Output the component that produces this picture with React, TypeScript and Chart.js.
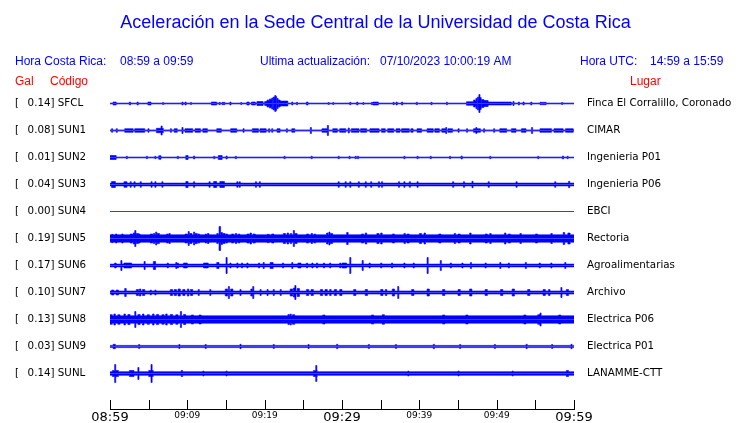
import React, { useEffect, useRef } from 'react';
import { Chart, registerables } from 'chart.js';

Chart.register(...registerables);

// ---------- data ----------
const TITLE = 'Aceleración en la Sede Central de la Universidad de Costa Rica';
const LOCAL_RANGE = '08:59 a 09:59';
const UTC_RANGE = '14:59 a 15:59';
const UPDATED = '07/10/2023 10:00:19 AM';
const START_MINUTE = 8 * 60 + 59; // 08:59
const SPAN_MINUTES = 60;
const TICK_STEP = 5;
const LABEL_STEP = 10;
const BIG_LABEL_STEP = 30;

const CODES = ['SFCL', 'SUN1', 'SUN2', 'SUN3', 'SUN4', 'SUN5', 'SUN6', 'SUN7', 'SUN8', 'SUN9', 'SUNL'];
const PLACES = [
  'Finca El Corralillo, Coronado', 'CIMAR', 'Ingenieria P01', 'Ingenieria P06', 'EBCI', 'Rectoria',
  'Agroalimentarias', 'Archivo', 'Electrica P06', 'Electrica P01', 'LANAMME-CTT',
];
const PEAK_GAL = [0.14, 0.08, 0.01, 0.04, 0.0, 0.19, 0.17, 0.1, 0.13, 0.03, 0.14];
// background noise half-amplitude of each trace (display units)
const NOISE = [0.45, 0.6, 0.45, 1.4, 0, 3.7, 1.4, 1.5, 3.7, 1.1, 1.8];

// events: [minute from start, half-amplitude, duration in minutes (optional)]
const EV_SFCL = [
  [0.4, 1.5, 0.4], [2.5, 1.5], [3.5, 1.5], [4.9, 1.5, 0.4], [6.8, 1], [9.3, 1.5], [9.7, 1.5], [10.4, 1],
  [13.1, 1.5, 0.7], [14.1, 1.2], [14.5, 1.2], [14.7, 1.2], [15.5, 1.5], [16.9, 1], [17.7, 1.5, 0.3],
  [18.3, 1.5, 0.5], [19.0, 2, 0.8], [20.0, 2, 0.3], [20.3, 3.5, 0.2], [20.5, 2.5, 0.1], [20.6, 4.5, 0.2],
  [20.8, 3.5, 0.1], [20.9, 5.5, 0.15], [21.1, 6.5, 0.15], [21.25, 4.5, 0.05], [21.3, 8, 0.15], [21.45, 7, 0.1],
  [21.6, 5, 0.15], [21.8, 3.5, 0.2], [22.0, 2.5, 1.0],
  [23.5, 1.5], [24.1, 1.2], [25.4, 1.5, 0.2], [28.2, 1], [28.8, 1], [31.0, 1.2], [31.9, 1.5], [32.7, 1],
  [33.8, 1.2], [34.0, 1.5, 0.7], [36.6, 1.2], [37.0, 1.5], [37.7, 1.5], [39.6, 1.2], [41.5, 1.2], [43.5, 1.2],
  [46.1, 1.8, 0.9], [47.0, 3.5, 0.2], [47.2, 2.5, 0.1], [47.3, 5, 0.15], [47.5, 6.5, 0.15], [47.65, 4, 0.05],
  [47.7, 9, 0.15], [47.85, 6, 0.15], [48.05, 4, 0.3], [48.35, 3, 0.55], [48.9, 1.5, 3.0], [52.1, 2],
  [52.8, 1.5], [53.4, 1.5], [54.4, 1.5], [55.6, 1.2, 0.8], [58.4, 1],
];
const EV_SUN1 = [
  [0.2, 1.8], [0.8, 1.8], [1.9, 1.8, 1.1], [3.2, 1.8, 1.3], [4.9, 1.8], [6.0, 2.2, 0.9], [6.6, 4.5], [7.8, 1.8],
  [8.3, 1.8, 0.4], [9.3, 3], [9.7, 1.8, 1.0], [11.0, 1.8, 0.7], [12.0, 1.8, 0.6], [13.8, 1.8, 0.6],
  [15.6, 1.8, 0.8], [17.2, 1.8], [18.4, 1.8, 0.8], [19.4, 1.8, 0.8], [20.5, 1.8], [20.9, 1.8], [21.6, 1.8, 0.4],
  [22.8, 1.8], [23.5, 1.8, 0.4], [25.9, 3], [27.4, 1.8, 0.8], [28.1, 5], [28.8, 1.8, 0.6], [29.7, 1.8, 0.8],
  [30.8, 2.5], [31.2, 1.8, 1.0], [32.4, 1.8, 0.8], [33.6, 1.8, 1.2], [35.1, 1.8, 0.5], [35.9, 1.8, 0.8],
  [37.0, 1.8, 0.5], [37.7, 1.8, 1.0], [38.9, 1.8, 0.3], [39.7, 1.8, 0.6], [41.0, 1.8, 0.8], [42.0, 1.8, 0.6],
  [42.9, 1.8, 0.5], [43.4, 3], [43.7, 1.8, 0.6], [45.0, 1.8], [46.1, 1.8], [47.0, 1.8, 0.9], [47.3, 3],
  [48.3, 1.8], [49.6, 1.8], [50.4, 1.8, 0.9], [51.9, 1.8, 0.6], [53.2, 1.8, 0.6], [54.5, 3], [55.6, 1.8, 1.5],
  [57.4, 1.8, 1.2], [58.9, 1.8, 1.0],
];
const EV_SUN2 = [
  [0, 2, 0.8], [2.1, 1.2], [4.7, 1.2], [5.8, 1.2], [6.3, 1.8, 0.3], [8.7, 1.2], [9.8, 2, 0.3], [10.8, 1.5],
  [13.4, 1.2], [14.0, 2, 0.5], [15.0, 1.5], [16.2, 1.2], [22.5, 1.2], [26.0, 1.2], [29.5, 1.2], [30.9, 1.2],
  [31.7, 1.2], [32.0, 1.2], [38.0, 1.2], [39.7, 1.2], [41.4, 1.2], [43.9, 1.2], [45.4, 1.5], [49.1, 1.2],
  [55.3, 1.2], [58.5, 1.5], [59.1, 1.2],
];
const EV_SUN3 = [
  [0.2, 3, 0.5], [1.8, 2.8, 0.4], [2.6, 2.8], [3.1, 2.8], [3.9, 2.8], [5.3, 2.8], [5.8, 2.8], [6.7, 2.8],
  [9.8, 3, 0.3], [10.8, 2.8], [12.8, 2.8], [13.4, 3, 0.4], [14.2, 3, 0.6], [16.4, 2.8], [16.7, 2.8],
  [18.8, 2.8], [19.3, 2.8], [29.5, 2.8], [30.4, 2.8], [31.0, 2.8], [32.1, 2.8], [33.0, 2.8], [33.7, 2.8],
  [34.7, 2.8], [35.1, 2.8], [37.3, 2.8], [38.0, 2.8], [38.7, 2.8], [39.7, 2.8], [44.3, 2.8], [45.7, 2.8],
  [46.8, 3.2], [48.9, 2.8], [52.5, 2.8], [57.5, 2.8], [59.3, 3.2],
];
const EV_SUN4: number[][] = [];
const EV_SUN5 = [
  [0.2, 4.2, 0.2], [0.7, 4.5, 0.2], [1.5, 4.5, 0.2], [2.6, 4.5, 0.3], [3.0, 5.5, 0.2], [3.2, 8], [3.4, 5, 0.3],
  [3.7, 4.5, 0.2], [5.2, 4.5, 0.3], [5.6, 5, 0.2], [5.9, 6.5], [6.1, 5, 0.3], [7.3, 4.5, 0.2], [7.6, 5, 0.2],
  [9.7, 4.5, 0.3], [10.1, 7], [10.3, 5, 0.3], [10.8, 6.5], [11.0, 5, 0.3], [11.4, 4.5, 0.2], [12.3, 4.5, 0.2],
  [12.6, 5, 0.2], [13.8, 5, 0.2], [14.1, 12, 0.2], [14.35, 6, 0.2], [14.6, 5, 0.3], [15.0, 4.5, 0.2],
  [15.7, 4.5, 0.3], [16.2, 5, 0.2], [16.6, 4.5, 0.2], [17.7, 4.5, 0.3], [18.1, 5.5, 0.2], [18.5, 4.5, 0.3],
  [20.3, 4.2, 0.3], [20.9, 4.5, 0.3], [22.4, 5, 0.3], [22.9, 5.5, 0.2], [23.3, 5, 0.2], [23.7, 8],
  [23.9, 5, 0.3], [25.4, 4.5, 0.3], [26.0, 5, 0.2], [26.4, 4.5, 0.2], [28.0, 5.5, 0.2], [28.3, 6.5],
  [28.5, 5, 0.3], [30.6, 6, 0.2], [32.5, 4.5, 0.3], [33.0, 5.5, 0.2], [34.5, 5, 0.3], [35.0, 5.5, 0.2],
  [36.5, 4.5, 0.3], [38.0, 5, 0.2], [38.4, 4.5, 0.3], [40.0, 5, 0.3], [40.6, 5.5, 0.2], [42.5, 4.5, 0.3],
  [44.5, 5, 0.2], [45.0, 4.5, 0.3], [46.5, 5.5, 0.2], [48.5, 4.5, 0.3], [49.1, 5, 0.2], [51.0, 5.5, 0.2],
  [51.5, 4.5, 0.3], [53.0, 5, 0.2], [55.0, 4.5, 0.3], [57.0, 5, 0.2], [58.6, 6, 0.2], [59.2, 5.5, 0.3],
];
const EV_SUN6 = [
  [0.6, 2.5, 0.2], [1.4, 5], [1.8, 2.5, 1.0], [4.4, 4], [5.6, 4, 0.3], [7.4, 2.5], [8.5, 3], [8.7, 2.5],
  [9.5, 2.5, 0.5], [12.1, 2.5, 0.6], [13.8, 3, 0.3], [15.0, 8], [15.5, 2.5], [16.4, 2.5], [17.0, 2.5],
  [17.7, 2.5], [19.2, 2.5], [19.8, 3], [20.7, 3, 0.4], [22.3, 2.5], [23.5, 3], [24.3, 2.5, 0.4], [25.4, 2.5],
  [26.1, 2.5], [26.7, 2.5], [27.6, 2.5], [28.4, 2.5], [29.7, 2.5], [30.0, 2.5, 0.6], [31.0, 8], [32.6, 5],
  [33.5, 2.5], [35.0, 2.5], [36.4, 2.5], [38.0, 2.5], [39.2, 2.5], [41.0, 8], [42.7, 5], [44.0, 2.5],
  [45.5, 2.5], [46.6, 3], [48.5, 2.5], [50.4, 3], [51.5, 2.5], [53.7, 3], [55.5, 2.5], [57.0, 2.5], [58.8, 3],
];
const EV_SUN7 = [
  [0.2, 2.5, 0.3], [0.8, 2.5, 0.3], [1.9, 4, 0.2], [3.4, 3, 0.3], [3.8, 3.5, 0.2], [4.2, 3, 0.3], [5.2, 2.5],
  [5.8, 2.5], [7.8, 3, 0.3], [8.3, 3, 0.3], [8.8, 3.5, 0.3], [9.4, 3, 0.3], [10.0, 3.5, 0.2], [10.4, 3, 0.3],
  [11.4, 3], [12.9, 3], [14.9, 3.5, 0.3], [15.3, 6], [15.6, 3.5, 0.3], [16.8, 3], [18.2, 3.5, 0.2],
  [18.45, 6], [19.4, 3], [20.3, 3], [21.1, 3], [22.0, 3], [23.3, 3.5, 0.3], [23.7, 4.5, 0.2], [23.9, 7],
  [24.2, 4, 0.3], [25.4, 3, 0.3], [26.0, 3, 0.3], [27.2, 3, 0.3], [27.8, 3, 0.3], [28.4, 3, 0.2],
  [29.0, 3, 0.3], [29.7, 3, 0.3], [31.5, 3, 0.3], [33.0, 3, 0.3], [35.0, 3, 0.3], [35.6, 3, 0.2],
  [36.5, 3.5, 0.3], [37.2, 6], [39.0, 3, 0.3], [41.0, 3.5, 0.3], [43.0, 3, 0.3], [45.0, 3, 0.3],
  [46.5, 3.5, 0.3], [48.5, 3, 0.3], [50.5, 3, 0.3], [52.0, 3.5, 0.3], [54.0, 3, 0.3], [56.0, 3, 0.3],
  [56.7, 3, 0.2], [58.3, 5], [59.0, 3, 0.3],
];
const EV_SUN8 = [
  [0, 4.8, 0.3], [0.5, 5.5, 0.2], [1.0, 4.8, 0.3], [1.8, 5.5, 0.2], [2.3, 5, 0.3], [3.2, 8], [3.6, 5, 0.3],
  [4.2, 5.5, 0.2], [4.8, 4.8, 0.3], [5.5, 5.5, 0.2], [6.0, 5, 0.3], [6.7, 4.8, 0.3], [7.2, 5.5, 0.2],
  [7.8, 5, 0.3], [8.5, 4.8, 0.3], [9.1, 8], [9.5, 5, 0.3], [10.5, 4.5, 0.3], [11.5, 4.5, 0.3],
  [23.0, 5, 0.2], [23.3, 5.5], [23.6, 4.8, 0.3], [27.5, 4.5, 0.3], [33.8, 4.5, 0.3], [35.2, 4.8, 0.3],
  [43.0, 4.5, 0.3], [46.0, 4.5, 0.3], [53.5, 4.5, 0.3], [55.3, 4.8, 0.3], [55.6, 6.5], [58.0, 4.5, 0.3],
];
const EV_SUN9 = [
  [0.4, 2.2, 0.3], [3.7, 2], [8.9, 2], [12.3, 2], [16.8, 2.2], [21.1, 2], [25.6, 2], [29.3, 2.2], [33.4, 2],
  [36.9, 2], [41.8, 2.2], [45.2, 2], [49.7, 2], [53.8, 2.2], [57.1, 2], [59.6, 2.2],
];
const EV_SUNL = [
  [0.3, 3, 0.8], [0.6, 9], [2.5, 3, 0.6], [3.6, 6], [5.0, 3, 0.6], [5.3, 9], [9.2, 3, 0.2], [12.0, 2.5],
  [15.0, 2.5], [26.3, 3, 0.5], [26.6, 8], [38.5, 2.5], [45.0, 2.5], [52.0, 2.5], [59.0, 3, 0.3],
];
const EVENTS = [EV_SFCL, EV_SUN1, EV_SUN2, EV_SUN3, EV_SUN4, EV_SUN5, EV_SUN6, EV_SUN7, EV_SUN8, EV_SUN9, EV_SUNL];

// ---------- helpers ----------
const DEFAULT_DUR = 0.15;
const GAIN = 1 / 27; // display units -> trace rows
const BLUE = '#0000ff';
const RED = '#ff0000';

function buildEnvelope(base: number, events: number[][]) {
  const marks = new Set<number>([0, SPAN_MINUTES]);
  events.forEach((e) => {
    marks.add(e[0]);
    marks.add(Math.min(SPAN_MINUTES, e[0] + (e[2] ?? DEFAULT_DUR)));
  });
  const ts = Array.from(marks).sort((a, b) => a - b);
  return ts.map((t) => {
    let amp = base;
    events.forEach((e) => {
      const d = e[2] ?? DEFAULT_DUR;
      if (t >= e[0] && t < e[0] + d) amp = Math.max(amp, e[1]);
    });
    return { x: t, amp };
  });
}

function fmtTime(m: number) {
  const total = START_MINUTE + m;
  const h = Math.floor(total / 60);
  const mm = total % 60;
  return `${String(h).padStart(2, '0')}:${String(mm).padStart(2, '0')}`;
}

const headerPlugin = {
  id: 'header',
  afterDraw(chart: any) {
    const { ctx, chartArea } = chart;
    const xs = chart.scales.x;
    ctx.save();
    // upward ticks on the time axis
    ctx.strokeStyle = '#000';
    ctx.lineWidth = 1;
    xs.ticks.forEach((t: any) => {
      const px = Math.round(xs.getPixelForValue(t.value)) + 0.5;
      ctx.beginPath();
      ctx.moveTo(px, chartArea.bottom - 9);
      ctx.lineTo(px, chartArea.bottom);
      ctx.stroke();
    });
    // title and headers
    ctx.textBaseline = 'alphabetic';
    ctx.fillStyle = BLUE;
    ctx.font = '18px "Liberation Sans", Arial, sans-serif';
    ctx.textAlign = 'center';
    ctx.fillText(TITLE, 375.5, 28);
    ctx.textAlign = 'left';
    ctx.font = '12px "Liberation Sans", Arial, sans-serif';
    ctx.fillText('Hora Costa Rica:', 15, 65);
    ctx.fillText(LOCAL_RANGE, 120, 65);
    ctx.fillText('Ultima actualización:', 260, 65);
    ctx.fillText(UPDATED, 380, 65);
    ctx.fillText('Hora UTC:', 580, 65);
    ctx.fillText(UTC_RANGE, 650, 65);
    ctx.fillStyle = RED;
    ctx.fillText('Gal', 15, 85);
    ctx.fillText('Código', 50, 85);
    ctx.fillText('Lugar', 630, 85);
    ctx.restore();
  },
};

const Y_MIN = -16.5 / 27;
const Y_MAX = 305.5 / 27;

export default function App() {
  const ref = useRef<HTMLCanvasElement>(null);
  useEffect(() => {
    const canvas = ref.current;
    if (!canvas) return;
    const datasets: any[] = [];
    CODES.forEach((_, i) => {
      const color = PEAK_GAL[i] === 0 ? RED : BLUE;
      if (NOISE[i] === 0 && EVENTS[i].length === 0) {
        datasets.push({
          data: [{ x: 0, y: i }, { x: SPAN_MINUTES, y: i }],
          borderColor: color, borderWidth: 1, pointRadius: 0, fill: false,
        });
        return;
      }
      const env = buildEnvelope(NOISE[i], EVENTS[i]);
      [-1, 1].forEach((sign) => {
        datasets.push({
          data: env.map((p) => ({ x: p.x, y: i + sign * p.amp * GAIN })),
          borderColor: color, backgroundColor: color, borderWidth: 0.6,
          pointRadius: 0, stepped: true, fill: { value: i },
        });
      });
    });

    const leftLabel = (v: number) => {
      const i = Math.round(v);
      return `[\u0020\u0020\u2009${PEAK_GAL[i].toFixed(2)}] ${CODES[i]}`;
    };
    const fitY = (w: number) => (s: any) => {
      s.width = w;
      s.paddingTop = 0;
      s.paddingBottom = 0;
    };

    const chart = new Chart(canvas, {
      type: 'line',
      data: { datasets },
      plugins: [headerPlugin],
      options: {
        responsive: false,
        animation: false,
        events: [],
        layout: { padding: { left: 15, right: 0, top: 87, bottom: 0 } },
        plugins: { legend: { display: false }, tooltip: { enabled: false }, title: { display: false } },
        scales: {
          x: {
            type: 'linear', min: 0, max: SPAN_MINUTES, offset: false,
            ticks: {
              stepSize: TICK_STEP, autoSkip: false, maxRotation: 0, minRotation: 0, padding: 2, color: '#000',
              font: (c: any) => ({
                family: '"DejaVu Sans", sans-serif',
                size: c.tick && c.tick.value % BIG_LABEL_STEP === 0 ? 13 : 9,
                lineHeight: 1,
              }),
              callback: (v: any) => (Number(v) % LABEL_STEP === 0 ? fmtTime(Number(v)) : ''),
            },
            grid: { drawOnChartArea: false, drawTicks: false },
            border: { display: true, color: '#000', width: 1 },
            afterFit: (s: any) => { s.height = 14; s.paddingLeft = 0; s.paddingRight = 0; },
          },
          y: {
            type: 'linear', position: 'left', min: Y_MIN, max: Y_MAX, reverse: true,
            afterBuildTicks: (s: any) => { s.ticks = CODES.map((_, i) => ({ value: i })); },
            afterFit: fitY(95),
            ticks: {
              autoSkip: false, crossAlign: 'far', color: '#000', padding: 0,
              font: { family: '"DejaVu Sans", sans-serif', size: 10.3 },
              callback: (v: any) => leftLabel(Number(v)),
            },
            grid: { display: false, drawTicks: false }, border: { display: false },
          },
          y2: {
            type: 'linear', position: 'right', min: Y_MIN, max: Y_MAX, reverse: true,
            afterBuildTicks: (s: any) => { s.ticks = PLACES.map((_, i) => ({ value: i })); },
            afterFit: fitY(166),
            ticks: {
              autoSkip: false, color: '#000', padding: 13,
              font: { family: '"DejaVu Sans", sans-serif', size: 10.3 },
              callback: (v: any) => PLACES[Math.round(Number(v))],
            },
            grid: { display: false, drawTicks: false }, border: { display: false },
          },
        },
      } as any,
    });
    return () => chart.destroy();
  }, []);

  return (
    <div style={{ position: 'fixed', left: 0, top: 0, width: 740, height: 423, background: '#fff', overflow: 'hidden' }}>
      <canvas ref={ref} width={740} height={423} style={{ display: 'block' }} />
    </div>
  );
}
